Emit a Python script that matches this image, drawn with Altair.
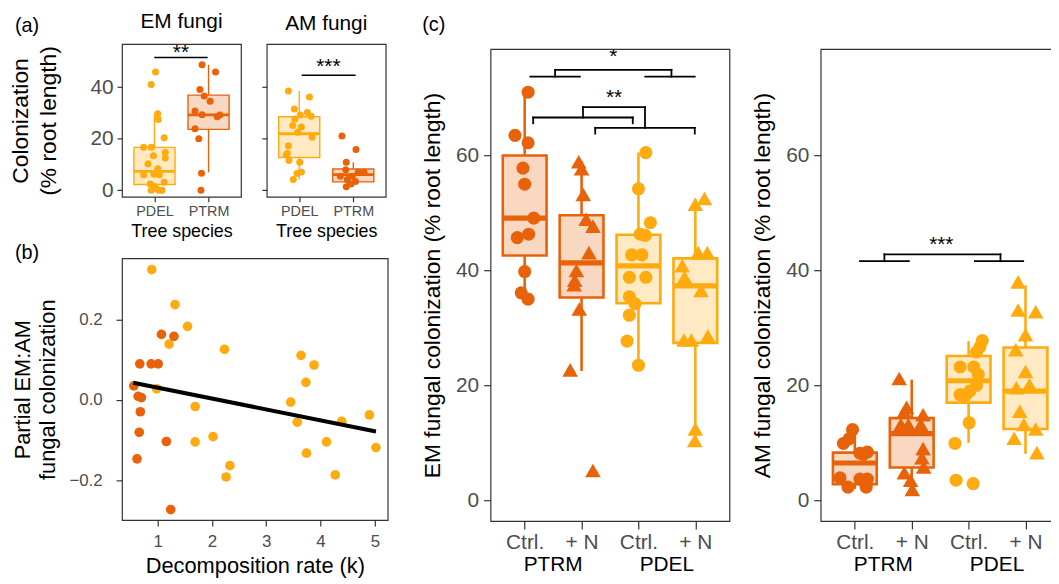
import altair as alt
import pandas as pd

FONT = "Liberation Sans"
DARK = "#E8620A"    # PTRM
LIGHT = "#FFAB0F"   # PDEL
FRAME = "#333333"
GREY = "#4D4D4D"

# ---------------- (a) colonization by tree species ----------------
A_SPECIES = ["PDEL", "PTRM"]
A_POS = [1, 2]
EM_Q1 = [2.2, 23.6]
EM_MED = [7.3, 29.2]
EM_Q3 = [16.6, 36.9]
EM_LO = [0.0, 6.9]
EM_HI = [29.8, 48.7]
AM_Q1 = [12.7, 3.2]
AM_MED = [21.9, 6.0]
AM_Q3 = [28.5, 8.2]
AM_LO = [4.1, 1.3]
AM_HI = [38.5, 10.8]
# (jitter offset, value)
EM_PDEL = [(0.02, 45.9), (-0.06, 41.0), (0.06, 29.7), (0.07, 27.4), (0.18, 20.3), (-0.2, 16.7),
           (-0.06, 16.7), (0.2, 14.6), (-0.02, 13.4), (0.2, 12.5), (-0.12, 10.2), (0.06, 8.3),
           (-0.2, 5.9), (-0.01, 6.2), (0.09, 6.0), (0.06, 6.6), (0.18, 3.1), (-0.08, 2.4),
           (-0.06, 0.0), (0.03, 0.7), (0.08, 0.0), (0.14, 0.0), (-0.01, 1.5)]
EM_PTRM = [(-0.12, 48.7), (0.13, 45.9), (-0.16, 39.1), (-0.08, 36.6), (0.03, 34.5), (-0.25, 30.7),
           (-0.12, 29.3), (0.16, 28.5), (0.21, 29.2), (-0.25, 23.8), (-0.18, 20.0), (-0.13, 6.6),
           (-0.14, 0.0)]
AM_PDEL = [(-0.2, 38.5), (0.19, 36.2), (-0.09, 31.5), (0.02, 29.2), (0.15, 30.2), (0.22, 28.7),
           (-0.08, 27.6), (-0.12, 25.1), (0.04, 24.5), (-0.03, 22.5), (0.24, 20.5), (-0.2, 17.2),
           (-0.22, 14.3), (-0.24, 13.6), (-0.19, 11.5), (0.01, 10.8), (0.04, 7.0), (-0.04, 6.5),
           (-0.11, 4.1)]
AM_PTRM = [(-0.21, 21.0), (0.05, 15.8), (-0.13, 10.8), (-0.14, 7.9), (0.09, 6.9), (0.2, 6.9),
           (-0.02, 5.4), (-0.11, 4.1), (0.04, 3.4), (-0.05, 2.4), (-0.13, 1.3), (-0.24, 5.4)]
# significance bars of (a): EM then AM
A_SIG_TEXT = ["**", "***"]
A_SIG_X1 = [1.01, 1.06]
A_SIG_X2 = [1.97, 2.03]
A_SIG_Y = [51.5, 44.6]
A_STAR_X = [1.49, 1.54]
A_STAR_Y = [51.0, 45.6]

# ---------------- (b) partial EM:AM vs decomposition ----------------
B_PDEL = [(0.89, 0.324), (1.32, 0.237), (1.55, 0.183), (1.21, 0.139), (0.98, 0.028), (2.23, 0.126),
          (1.69, -0.016), (1.69, -0.104), (2.02, -0.091), (2.33, -0.163), (2.26, -0.191),
          (3.64, 0.111), (3.88, 0.087), (3.73, 0.044), (3.45, -0.005), (3.57, -0.055),
          (3.74, -0.132), (4.11, -0.104), (4.27, -0.186), (4.39, -0.053), (4.90, -0.037),
          (5.02, -0.118)]
B_PTRM = [(1.07, 0.163), (1.30, 0.158), (0.67, 0.090), (0.88, 0.090), (1.01, 0.090), (0.56, 0.035),
          (0.64, 0.009), (0.70, 0.006), (0.68, -0.029), (0.66, -0.080), (0.62, -0.146),
          (1.16, -0.103), (1.24, -0.272)]
B_FIT_K = [0.55, 5.02]
B_FIT_P = [0.043, -0.078]

# ---------------- (c) nitrogen treatment ----------------
C_SPECIES = ["PTRM", "PTRM", "PDEL", "PDEL"]
C_TREAT = ["Ctrl.", "+ N", "Ctrl.", "+ N"]
C_POS = [1, 2, 3, 4]
C_GROUPS = ["PTRM", "PDEL"]
C_GROUP_POS = [1.5, 3.5]
C_EM_Q1 = [42.6, 35.3, 34.3, 27.4]
C_EM_MED = [49.1, 41.3, 40.8, 37.3]
C_EM_Q3 = [60.0, 49.6, 46.2, 42.1]
C_EM_LO = [35.0, 22.5, 23.5, 10.4]
C_EM_HI = [71.0, 59.0, 60.5, 52.4]
C_AM_Q1 = [2.8, 5.7, 17.0, 12.4]
C_AM_MED = [6.5, 11.6, 20.8, 19.0]
C_AM_Q3 = [8.3, 14.3, 25.1, 26.6]
C_AM_LO = [2.0, 1.5, 10.0, 8.1]
C_AM_HI = [12.2, 21.0, 27.7, 37.4]
C_EM_PTRM_CTRL = [(0.06, 71.0), (-0.17, 63.5), (0.06, 62.2), (-0.03, 57.8), (0.0, 55.0), (0.16, 49.1),
                  (-0.13, 45.7), (0.07, 46.3), (0.0, 39.8), (-0.06, 36.1), (0.06, 35.0)]
C_EM_PTRM_N = [(-0.05, 58.9), (0.0, 57.7), (0.03, 53.2), (0.08, 48.9), (0.2, 47.7), (0.13, 43.1),
               (-0.09, 40.0), (-0.12, 38.3), (-0.13, 37.5), (-0.04, 33.3), (-0.2, 22.7), (0.2, 5.2)]
C_EM_PDEL_CTRL = [(0.13, 60.5), (0.0, 54.2), (0.21, 48.3), (0.03, 46.3), (0.12, 46.1), (-0.12, 42.7),
                  (0.06, 42.7), (-0.16, 38.8), (0.13, 38.8), (-0.16, 35.4), (-0.06, 34.2),
                  (-0.16, 32.2), (-0.2, 27.7), (0.0, 23.5)]
C_EM_PDEL_N = [(0.16, 52.5), (0.0, 51.5), (0.05, 43.1), (0.21, 43.1), (-0.23, 40.8), (-0.19, 38.8),
               (0.1, 36.5), (-0.2, 27.9), (-0.07, 27.9), (0.22, 28.6), (0.0, 12.4), (-0.01, 10.4)]
C_AM_PTRM_CTRL = [(-0.04, 12.3), (-0.1, 10.7), (-0.2, 9.9), (0.09, 8.2), (0.22, 8.4), (0.15, 8.0),
                  (-0.26, 3.9), (-0.12, 2.3), (0.09, 3.7), (0.22, 3.7), (0.2, 2.3)]
C_AM_PTRM_N = [(-0.22, 21.2), (-0.09, 16.2), (-0.13, 15.4), (0.2, 14.9), (-0.19, 13.2), (-0.06, 13.2),
               (0.16, 13.2), (0.2, 9.0), (0.18, 7.4), (0.21, 5.8), (-0.13, 4.8), (-0.02, 3.5),
               (0.01, 1.9)]
C_AM_PDEL_CTRL = [(0.24, 27.8), (0.2, 26.7), (0.14, 25.8), (-0.15, 23.2), (0.09, 23.2), (0.17, 21.9),
                  (0.14, 20.0), (0.02, 19.0), (-0.15, 18.4), (-0.06, 18.2), (0.01, 13.5),
                  (-0.24, 9.9), (-0.22, 3.5), (0.08, 2.9)]
C_AM_PDEL_N = [(-0.13, 38.0), (-0.13, 33.1), (0.18, 32.8), (0.0, 28.8), (-0.17, 26.2), (0.0, 22.4),
               (-0.16, 19.6), (0.07, 20.1), (-0.1, 15.5), (-0.03, 13.2), (-0.2, 10.8), (0.18, 12.4),
               (0.2, 8.3)]
# bracket segments (x1, x2, y1, y2)
C_EM_SEGS = [(1.10, 1.97, 73.7, 73.7), (3.12, 3.99, 73.7, 73.7), (1.535, 1.535, 73.7, 74.9),
             (3.58, 3.58, 73.7, 74.9), (1.535, 3.58, 74.9, 74.9),
             (1.15, 2.90, 66.6, 66.6), (1.15, 1.15, 65.6, 66.6), (2.90, 2.90, 65.6, 66.6),
             (2.24, 3.99, 64.8, 64.8), (2.24, 2.24, 63.8, 64.8), (3.99, 3.99, 63.8, 64.8),
             (2.025, 2.025, 66.6, 68.4), (2.025, 3.115, 68.4, 68.4), (3.115, 3.115, 64.8, 68.4)]
C_EM_STARS = ["*", "**"]
C_EM_STAR_X = [2.56, 2.57]
C_EM_STAR_Y = [76.1, 69.0]
C_AM_SEGS = [(1.09, 1.95, 41.6, 41.6), (3.11, 3.96, 41.6, 41.6), (1.52, 1.52, 41.6, 42.8),
             (3.56, 3.56, 41.6, 42.8), (1.52, 3.56, 42.8, 42.8)]
C_AM_STARS = ["***"]
C_AM_STAR_X = [2.52]
C_AM_STAR_Y = [43.4]

PANEL_LETTERS = ["(a)", "(b)", "(c)"]

SP = alt.Scale(domain=["PTRM", "PDEL"], range=[DARK, LIGHT])


def box_df(species, pos, q1, med, q3, lo, hi, hw):
    d = pd.DataFrame({"species": species, "pos": pos, "q1": q1, "med": med,
                      "q3": q3, "lo": lo, "hi": hi})
    d["xl"] = d["pos"] - hw
    d["xr"] = d["pos"] + hw
    return d


def pts_df(groups):
    rows = []
    for species, treat, pos, pts in groups:
        for off, val in pts:
            rows.append({"species": species, "treat": treat, "x": pos + off, "v": val})
    return pd.DataFrame(rows)


def box_layers(bdf, pdf, segs, stars, xs, ys, xax, yax, lw, circ, tri, seg_w, star_fs):
    X = lambda f: alt.X(f + ":Q", scale=xs, axis=xax)
    Y = lambda f: alt.Y(f + ":Q", scale=ys, axis=yax)
    col = alt.Color("species:N", scale=SP, legend=None)
    base = alt.Chart(bdf)
    layers = [
        base.mark_rule(strokeWidth=lw).encode(x=X("pos"), y=Y("lo"), y2="q1", color=col),
        base.mark_rule(strokeWidth=lw).encode(x=X("pos"), y=Y("q3"), y2="hi", color=col),
        base.mark_rect(fillOpacity=0.25, strokeWidth=lw).encode(
            x=X("xl"), x2="xr", y=Y("q1"), y2="q3",
            fill=alt.Fill("species:N", scale=SP, legend=None),
            stroke=alt.Stroke("species:N", scale=SP, legend=None)),
        base.mark_rule(strokeWidth=2 * lw).encode(x=X("xl"), x2="xr", y=Y("med"), color=col),
    ]
    c = pdf[pdf["treat"] != "+ N"]
    t = pdf[pdf["treat"] == "+ N"]
    if len(c):
        layers.append(alt.Chart(c).mark_point(shape="circle", filled=True, opacity=1, size=circ)
                      .encode(x=X("x"), y=Y("v"), color=col))
    if len(t):
        layers.append(alt.Chart(t).mark_point(shape="triangle-up", filled=True, opacity=1, size=tri)
                      .encode(x=X("x"), y=Y("v"), color=col))
    layers.append(alt.Chart(segs).mark_rule(color="black", strokeWidth=seg_w, strokeCap="square")
                  .encode(x=X("x1"), x2="x2", y=Y("y1"), y2="y2"))
    layers.append(alt.Chart(stars).mark_text(fontSize=star_fs, baseline="alphabetic", color="black")
                  .encode(x=X("x"), y=Y("y"), text="t:N"))
    return layers


def letter(i, dx, dy):
    return alt.Chart(pd.DataFrame({"t": [PANEL_LETTERS[i]]})).mark_text(
        fontSize=20, align="left", baseline="alphabetic", color="black").encode(
        x=alt.value(dx), y=alt.value(dy), text="t:N")


# ---------- panel (a) ----------
A_W, A_H = 120, 154
a_xs = alt.Scale(domain=[0.4, 2.6], nice=False, zero=False)
a_ys = alt.Scale(domain=[-2.6, 56.7], nice=False, zero=False)
a_xax = alt.Axis(values=[1, 2], labelExpr="datum.value == 1 ? 'PDEL' : 'PTRM'", labelFontSize=14.5,
                 tickSize=5, labelPadding=3, title="Tree species", titleFontSize=18, titlePadding=5)
em_yax = alt.Axis(values=[0, 20, 40], labelFontSize=21, tickSize=5, labelPadding=4,
                  title=["Colonization", "(% root length)"], titleFontSize=23, titleLineHeight=28,
                  titlePadding=30)
am_yax = alt.Axis(values=[0, 20, 40], labels=False, tickSize=5, title="")

em_box = box_df(A_SPECIES, A_POS, EM_Q1, EM_MED, EM_Q3, EM_LO, EM_HI, 0.38)
am_box = box_df(A_SPECIES, A_POS, AM_Q1, AM_MED, AM_Q3, AM_LO, AM_HI, 0.38)
em_pts = pts_df([("PDEL", "", 1, EM_PDEL), ("PTRM", "", 2, EM_PTRM)])
am_pts = pts_df([("PDEL", "", 1, AM_PDEL), ("PTRM", "", 2, AM_PTRM)])
em_seg = pd.DataFrame({"x1": [A_SIG_X1[0]], "x2": [A_SIG_X2[0]], "y1": [A_SIG_Y[0]], "y2": [A_SIG_Y[0]]})
am_seg = pd.DataFrame({"x1": [A_SIG_X1[1]], "x2": [A_SIG_X2[1]], "y1": [A_SIG_Y[1]], "y2": [A_SIG_Y[1]]})
em_star = pd.DataFrame({"t": [A_SIG_TEXT[0]], "x": [A_STAR_X[0]], "y": [A_STAR_Y[0]]})
am_star = pd.DataFrame({"t": [A_SIG_TEXT[1]], "x": [A_STAR_X[1]], "y": [A_STAR_Y[1]]})

a_em = alt.layer(*box_layers(em_box, em_pts, em_seg, em_star, a_xs, a_ys, a_xax, em_yax,
                             1.4, 50, 50, 1.5, 21)).properties(
    width=A_W, height=A_H, title=alt.TitleParams(text="EM fungi", fontSize=21, offset=10))
a_am = alt.layer(*box_layers(am_box, am_pts, am_seg, am_star, a_xs, a_ys, a_xax, am_yax,
                             1.4, 50, 50, 1.5, 21)).properties(
    width=A_W, height=A_H, title=alt.TitleParams(text="AM fungi", fontSize=21, offset=10))

# ---------- panel (b) ----------
B_W, B_H = 268, 264
b_xs = alt.Scale(domain=[0.343, 5.237], nice=False, zero=False)
b_ys = alt.Scale(domain=[-0.298, 0.352], nice=False, zero=False)
b_xax = alt.Axis(values=[1, 2, 3, 4, 5], format="d", labelFontSize=17, tickSize=6, labelPadding=8,
                 title="Decomposition rate (k)", titleFontSize=22, titlePadding=6)
b_yax = alt.Axis(values=[-0.2, 0, 0.2], format=".1f", labelFontSize=17, tickSize=6, labelPadding=14,
                 title=["Partial EM:AM", "fungal colonization"], titleFontSize=22,
                 titleLineHeight=25, titlePadding=10)
b_pts = pd.DataFrame(
    [{"species": "PDEL", "k": k, "p": p} for k, p in B_PDEL] +
    [{"species": "PTRM", "k": k, "p": p} for k, p in B_PTRM])
b_fit = pd.DataFrame({"k": B_FIT_K, "p": B_FIT_P})
b_points = alt.Chart(b_pts).mark_circle(size=95, opacity=1).encode(
    x=alt.X("k:Q", scale=b_xs, axis=b_xax), y=alt.Y("p:Q", scale=b_ys, axis=b_yax),
    color=alt.Color("species:N", scale=SP, legend=None))
b_line = alt.Chart(b_fit).mark_line(color="black", strokeWidth=4).encode(
    x=alt.X("k:Q", scale=b_xs, axis=b_xax), y=alt.Y("p:Q", scale=b_ys, axis=b_yax))
# invisible rectangle that fixes the extent of the whole canvas (page area)
canvas = alt.Chart(pd.DataFrame({"k": [0]})).mark_rect(opacity=0).encode(
    x=alt.value(-114), x2=alt.value(953), y=alt.value(-248), y2=alt.value(334))
panel_b = alt.layer(canvas, b_points, b_line, letter(0, -108, -228.5), letter(1, -108, 0.5)).properties(
    width=B_W, height=B_H)

# ---------- panel (c) ----------
C_W, C_H = 241, 476
c_xs = alt.Scale(domain=[0.4, 4.6], nice=False, zero=False)
c_ys = alt.Scale(domain=[-3.6, 78.5], nice=False, zero=False)
c_xax = alt.Axis(values=[1, 2, 3, 4], labelExpr="datum.value % 2 == 1 ? 'Ctrl.' : '+ N'",
                 labelFontSize=21, tickSize=8, labelPadding=3, title="")


def c_yax(title):
    return alt.Axis(values=[0, 20, 40, 60], labelFontSize=21, tickSize=7, labelPadding=5,
                    title=title, titleFontSize=23, titlePadding=11)


def group_labels():
    return alt.Chart(pd.DataFrame({"g": C_GROUPS, "x": C_GROUP_POS})).mark_text(
        fontSize=21, baseline="alphabetic", color="black").encode(
        x=alt.X("x:Q", scale=c_xs, axis=c_xax), y=alt.value(C_H + 50.5), text="g:N")


em_c_box = box_df(C_SPECIES, C_POS, C_EM_Q1, C_EM_MED, C_EM_Q3, C_EM_LO, C_EM_HI, 0.385)
am_c_box = box_df(C_SPECIES, C_POS, C_AM_Q1, C_AM_MED, C_AM_Q3, C_AM_LO, C_AM_HI, 0.385)
em_c_pts = pts_df([("PTRM", "Ctrl.", 1, C_EM_PTRM_CTRL), ("PTRM", "+ N", 2, C_EM_PTRM_N),
                   ("PDEL", "Ctrl.", 3, C_EM_PDEL_CTRL), ("PDEL", "+ N", 4, C_EM_PDEL_N)])
am_c_pts = pts_df([("PTRM", "Ctrl.", 1, C_AM_PTRM_CTRL), ("PTRM", "+ N", 2, C_AM_PTRM_N),
                   ("PDEL", "Ctrl.", 3, C_AM_PDEL_CTRL), ("PDEL", "+ N", 4, C_AM_PDEL_N)])
em_c_seg = pd.DataFrame(C_EM_SEGS, columns=["x1", "x2", "y1", "y2"])
am_c_seg = pd.DataFrame(C_AM_SEGS, columns=["x1", "x2", "y1", "y2"])
em_c_star = pd.DataFrame({"t": C_EM_STARS, "x": C_EM_STAR_X, "y": C_EM_STAR_Y})
am_c_star = pd.DataFrame({"t": C_AM_STARS, "x": C_AM_STAR_X, "y": C_AM_STAR_Y})

c_em = alt.layer(*box_layers(em_c_box, em_c_pts, em_c_seg, em_c_star, c_xs, c_ys, c_xax,
                             c_yax("EM fungal colonization (% root length)"),
                             2.6, 175, 250, 1.8, 21),
                 group_labels(), letter(2, -69, -18.2)).properties(width=C_W, height=C_H)
c_am = alt.layer(*box_layers(am_c_box, am_c_pts, am_c_seg, am_c_star, c_xs, c_ys, c_xax,
                             c_yax("AM fungal colonization (% root length)"),
                             2.6, 175, 250, 1.8, 21),
                 group_labels()).properties(width=C_W, height=C_H)

spacer = alt.Chart(pd.DataFrame({"k": [0]})).mark_point(opacity=0).encode(
    x=alt.value(0), y=alt.value(0)).properties(
    width=1, height=1, view=alt.ViewBackground(strokeOpacity=0))

a_row = alt.hconcat(a_em, a_am, spacing=26, bounds="flush")
col1 = alt.vconcat(a_row, panel_b, spacing=216, bounds="flush")
c_row = alt.hconcat(c_em, c_am, spacing=92, bounds="flush")
c_col = alt.vconcat(spacer, c_row, spacing=4, bounds="flush")

chart = alt.hconcat(col1, c_col, spacing=371.7, bounds="flush").properties(
    padding={"left": 0, "top": 0, "right": -17, "bottom": -14}
).configure_view(stroke=FRAME, strokeWidth=1.2).configure_axis(
    grid=False, domain=False, tickColor=FRAME, tickWidth=1.2, labelColor=GREY,
    titleColor="black", labelFont=FONT, titleFont=FONT, titleFontWeight="normal",
    labelOverlap=False, labelFlush=False
).configure_title(font=FONT, fontWeight="normal", color="black", fontSize=21
).configure_text(font=FONT)

chart.save("out.html", embed_options={"renderer": "svg", "actions": False})
